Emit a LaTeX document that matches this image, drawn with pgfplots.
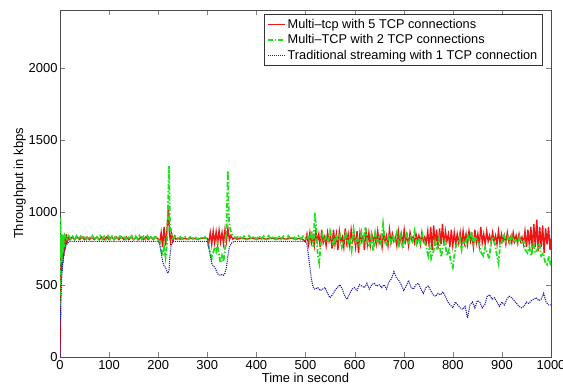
\documentclass[border=0pt]{standalone}
\usepackage{pgfplots}
\pgfplotsset{compat=1.18}
\usepackage{fontspec}
\setmainfont{Liberation Sans}
\definecolor{mred}{RGB}{240,20,20}
\definecolor{mgreen}{RGB}{30,225,30}
\definecolor{mblue}{RGB}{30,30,170}
\begin{document}
\begin{tikzpicture}
\begin{axis}[
  width=491bp, height=347bp, scale only axis,
  xmin=0, xmax=1000, ymin=0, ymax=2400,
  xtick={0,100,...,1000}, ytick={0,500,1000,1500,2000},
  tick align=inside, xtick pos=both, ytick pos=both,
  major tick length=5bp,
  /pgf/number format/assume math mode=true,
  /pgf/number format/1000 sep={},
  tick label style={font=\fontsize{13}{15}\selectfont},
  xticklabel style={yshift=0bp},
  yticklabel style={xshift=1bp},
  label style={font=\fontsize{13}{15}\selectfont},
  xlabel={Time in second}, ylabel={Throughput in kbps},
  xlabel style={yshift=3bp},
  ylabel style={yshift=-4bp},
  axis line style={black!70},
  legend style={at={(0.982,0.988)}, anchor=north east, draw=black!80, line width=0.6pt,
     font=\fontsize{12.8}{15}\selectfont, inner sep=2.5pt, row sep=1pt, cells={anchor=west}},
]
\addplot[mred, line width=1.4pt] table {
0 0
1 400
2 560
3 780
4 600
5 800
6 650
7 820
8 700
9 830
10 740
11 840
12 780
13 850
15 800
18 830
20 812
25 830
30 812
35 830
40 812
45 830
50 812
55 830
60 812
65 830
70 812
75 830
80 812
85 830
90 812
95 830
100 812
105 830
110 812
115 830
120 812
125 830
130 812
135 830
140 812
145 830
150 812
155 830
160 812
165 830
170 812
175 830
180 812
185 830
190 812
195 830
200 815
203 790
206 860
209 760
212 900
215 770
218 880
221 1050
223 850
225 800
227 860
230 800
233 835
236 815
240 822
245 815
250 822
260 815
270 822
280 815
290 822
300 820
303 790
306 860
309 780
312 870
315 790
318 865
321 780
324 875
327 795
330 860
333 785
336 880
339 800
342 890
345 810
348 840
352 815
356 825
360 815
370 822
380 815
390 822
400 815
410 822
420 815
430 822
440 815
450 822
460 815
470 822
480 815
490 822
500 800
503 850
506 780
509 860
512 790
515 840
518 770
521 870
524 800
527 850
530 760
533 880
536 790
539 830
542 770
545 860
548 800
551 840
554 750
557 880
560 780
563 850
566 740
569 870
572 800
575 830
578 760
581 890
584 790
587 850
590 770
593 880
596 800
599 840
602 760
605 870
608 720
611 860
614 800
617 830
620 740
623 890
626 780
629 860
632 770
635 850
638 800
641 840
644 780
647 870
650 790
653 830
656 760
659 860
662 800
665 840
668 770
671 880
674 790
677 850
680 800
683 830
686 770
689 870
692 790
695 850
698 780
701 880
704 800
707 840
710 770
713 860
716 810
719 830
722 790
725 850
728 800
731 840
734 780
737 860
740 800
743 830
746 790
749 870
752 760
755 900
758 740
761 910
764 770
767 880
770 750
773 890
776 780
779 920
782 770
785 870
788 800
791 850
794 760
797 880
800 770
803 860
806 780
809 850
812 790
815 860
818 770
821 870
824 790
827 850
830 780
833 870
836 800
839 840
842 760
845 880
848 790
851 850
854 770
857 900
860 790
863 850
866 780
869 870
872 800
875 840
878 790
881 860
884 800
887 840
890 780
893 870
896 790
899 850
902 800
905 840
908 780
911 860
914 800
917 830
920 790
923 860
926 800
929 840
932 790
935 850
938 800
941 830
944 780
947 870
950 760
953 880
956 770
959 900
962 740
965 920
968 760
971 950
974 730
977 900
980 760
983 910
986 720
989 890
992 780
995 900
998 740
1000 820
};
\addlegendentry{Multi--tcp with 5 TCP connections}
\addplot[mgreen, line width=1.8pt, dash pattern=on 5pt off 2pt on 1.5pt off 2pt] table {
0 350
1 960
2 700
3 850
4 650
5 840
6 720
7 850
8 760
10 840
14 815
18 838
22 815
26 835
30 815
34 838
38 815
42 835
46 815
50 838
54 815
58 835
62 815
66 838
70 815
74 835
78 815
82 838
86 815
90 835
94 815
98 838
102 815
106 835
110 815
114 838
118 815
122 835
126 815
130 838
134 815
138 835
142 815
146 838
150 815
154 835
158 815
162 838
166 815
170 835
174 815
178 838
182 815
186 835
190 815
194 838
198 815
203 800
206 740
209 700
212 760
215 690
218 780
222 1320
224 900
227 850
230 820
235 835
240 815
245 830
250 815
255 830
260 815
265 830
270 815
275 830
280 815
285 830
290 815
295 830
300 815
303 760
306 720
309 680
312 720
315 760
318 730
321 780
324 700
327 650
330 700
333 660
336 740
339 900
342 1290
344 950
347 880
350 850
355 830
360 825
365 838
370 815
375 835
380 815
385 838
390 815
395 835
400 815
405 838
410 815
415 835
420 815
425 838
430 815
435 835
440 815
445 838
450 815
455 835
460 815
465 838
470 815
475 835
480 815
485 838
490 815
495 835
500 820
504 840
508 800
512 870
516 760
519 1000
522 880
525 700
528 650
531 780
534 850
538 800
542 830
546 790
550 870
554 810
558 760
562 850
566 800
570 840
574 760
578 820
582 870
586 780
590 830
594 740
598 880
602 800
606 820
610 770
614 860
618 790
622 900
626 800
630 760
634 840
638 730
642 860
646 800
650 830
654 780
658 920
662 800
666 770
670 850
674 790
678 830
682 800
686 860
690 780
694 840
698 750
702 810
706 850
710 780
714 830
718 800
722 870
726 780
730 820
734 790
738 850
742 800
746 760
750 700
753 760
756 680
760 720
764 800
768 740
772 820
776 690
780 760
784 800
788 700
792 740
796 660
800 620
803 700
806 760
810 800
814 830
818 740
822 800
826 770
830 850
834 800
838 870
842 780
846 830
850 800
854 780
858 720
862 700
866 760
870 720
874 680
878 800
882 830
886 780
890 700
893 650
896 760
900 800
904 850
908 800
912 830
916 790
920 840
924 800
928 810
932 780
936 830
940 790
944 800
948 740
952 720
956 760
960 700
964 780
968 720
972 740
976 790
980 700
984 720
988 660
992 640
996 700
1000 620
};
\addlegendentry{Multi--TCP with 2 TCP connections}
\addplot[mblue, line width=1.1pt, densely dotted] table {
0 0
1 200
2 400
3 520
5 620
7 700
10 750
13 775
16 790
20 798
25 800
200 800
203 780
206 720
209 660
212 630
215 620
218 590
220 580
222 600
224 700
227 780
230 800
300 800
303 760
306 700
309 650
312 630
315 620
318 600
321 575
324 570
327 565
330 570
333 565
336 580
339 620
342 700
345 760
350 790
355 800
500 800
503 780
506 700
509 620
512 540
515 490
518 470
520 470
525 480
530 460
535 470
540 480
545 440
550 410
555 430
560 460
565 480
570 500
575 470
580 420
585 400
590 440
595 470
600 480
605 460
610 500
615 490
620 480
625 510
630 470
635 500
640 510
645 490
650 500
655 480
660 500
665 470
670 520
675 540
680 590
685 550
690 530
695 500
700 460
705 490
710 530
715 480
720 470
725 500
730 510
735 470
740 440
745 480
750 490
755 460
760 430
765 420
770 440
775 430
780 450
785 420
790 380
795 360
800 340
805 380
810 360
815 340
820 330
825 350
830 270
835 360
840 380
845 340
850 390
855 380
860 340
865 360
870 420
875 430
880 400
885 410
890 380
895 350
900 380
905 360
910 400
915 420
920 410
925 390
930 370
935 350
940 340
945 350
950 380
955 370
960 390
965 400
970 410
975 390
980 400
985 440
990 380
995 360
1000 360
};
\addlegendentry{Traditional streaming with 1 TCP connection}
\end{axis}
\pgfresetboundingbox
\useasboundingbox ([shift={(-60bp,-30bp)}]current axis.south west) rectangle ([shift={(12bp,10bp)}]current axis.north east);
\end{tikzpicture}
\end{document}
